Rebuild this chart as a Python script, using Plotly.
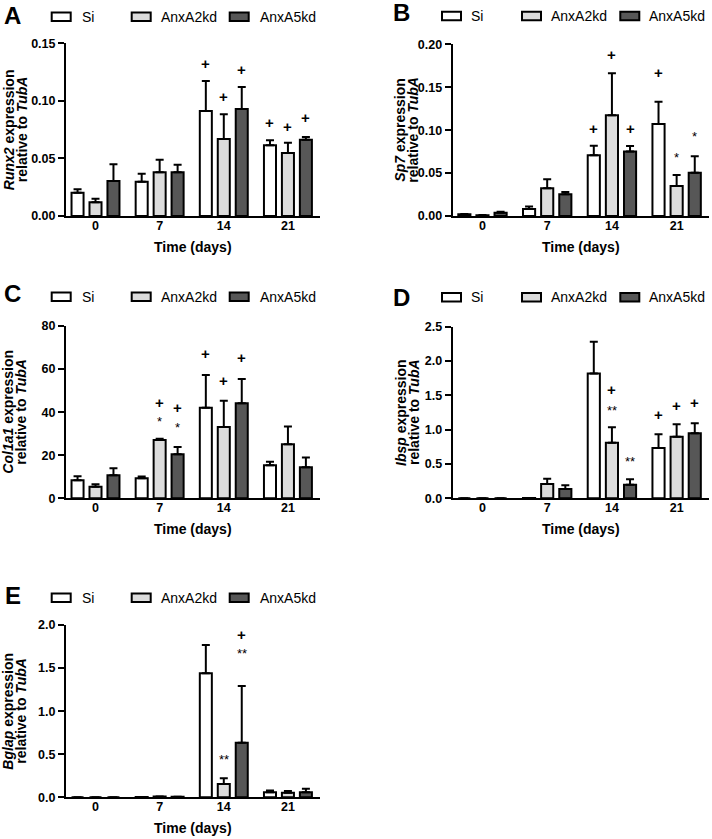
import plotly.graph_objects as go

# ---------------- data ----------------
days = ["0", "7", "14", "21"]
series_names = ["Si", "AnxA2kd", "AnxA5kd"]

runx2_si = [0.0203, 0.0298, 0.0912, 0.0614]
runx2_si_err = [0.003, 0.007, 0.026, 0.0043]
runx2_a2 = [0.0119, 0.0379, 0.0669, 0.0547]
runx2_a2_err = [0.003, 0.011, 0.0214, 0.009]
runx2_a5 = [0.0304, 0.0379, 0.093, 0.0663]
runx2_a5_err = [0.0145, 0.0067, 0.019, 0.0023]

sp7_si = [0.0019, 0.0082, 0.0707, 0.1072]
sp7_si_err = [0.0005, 0.003, 0.011, 0.026]
sp7_a2 = [0.001, 0.0322, 0.1173, 0.035]
sp7_a2_err = [0.0003, 0.0105, 0.049, 0.0128]
sp7_a5 = [0.0039, 0.0252, 0.075, 0.0505]
sp7_a5_err = [0.001, 0.0028, 0.0066, 0.019]

col1a1_si = [8.4, 9.3, 42.1, 15.3]
col1a1_si_err = [1.8, 0.8, 15.2, 1.7]
col1a1_a2 = [5.4, 27.1, 33.1, 25.1]
col1a1_a2_err = [1.1, 0.6, 12.2, 8.2]
col1a1_a5 = [10.7, 20.4, 44.1, 14.4]
col1a1_a5_err = [3.2, 3.4, 11.3, 4.6]

ibsp_si = [0.0, 0.005, 1.82, 0.733]
ibsp_si_err = [0.0, 0.0, 0.46, 0.2]
ibsp_a2 = [0.0, 0.209, 0.811, 0.898]
ibsp_a2_err = [0.0, 0.077, 0.223, 0.18]
ibsp_a5 = [0.0, 0.136, 0.199, 0.947]
ibsp_a5_err = [0.0, 0.054, 0.078, 0.145]

bglap_si = [0.0, 0.003, 1.439, 0.058]
bglap_si_err = [0.0, 0.0, 0.329, 0.02]
bglap_a2 = [0.0, 0.008, 0.155, 0.054]
bglap_a2_err = [0.0, 0.0, 0.066, 0.02]
bglap_a5 = [0.0, 0.006, 0.634, 0.058]
bglap_a5_err = [0.0, 0.0, 0.658, 0.04]

# significance marks: (day, series, symbol, level)
sig_runx2 = [("14", "Si", "+", 0.1326), ("14", "AnxA2kd", "+", 0.104), ("14", "AnxA5kd", "+", 0.127),
             ("21", "Si", "+", 0.081), ("21", "AnxA2kd", "+", 0.078), ("21", "AnxA5kd", "+", 0.0854)]
sig_sp7 = [("14", "Si", "+", 0.102), ("14", "AnxA2kd", "+", 0.1876), ("14", "AnxA5kd", "+", 0.102),
           ("21", "Si", "+", 0.167), ("21", "AnxA2kd", "*", 0.073), ("21", "AnxA5kd", "*", 0.097)]
sig_col1a1 = [("7", "AnxA2kd", "+", 44.6), ("7", "AnxA2kd", "*", 37.6),
              ("7", "AnxA5kd", "+", 42.1), ("7", "AnxA5kd", "*", 34.5),
              ("14", "Si", "+", 67.3), ("14", "AnxA2kd", "+", 54.9), ("14", "AnxA5kd", "+", 65.5)]
sig_ibsp = [("14", "Si", "+", 2.587), ("14", "AnxA2kd", "+", 1.578), ("14", "AnxA2kd", "**", 1.335),
            ("14", "AnxA5kd", "**", 0.592),
            ("21", "Si", "+", 1.223), ("21", "AnxA2kd", "+", 1.359), ("21", "AnxA5kd", "+", 1.393)]
sig_bglap = [("14", "Si", "+", 2.058), ("14", "AnxA5kd", "+", 1.895), ("14", "AnxA5kd", "**", 1.71),
             ("14", "AnxA2kd", "**", 0.491)]

# ---------------- layout constants ----------------
W, H = 712, 839
FONT = "Liberation Sans, Arial, sans-serif"
colors = {"Si": "#ffffff", "AnxA2kd": "#dcdcdc", "AnxA5kd": "#575757"}
BARGAP = 0.16

def fx(p):
    return p / W

def fy(p):
    return 1 - p / H

panels = [
    dict(letter="A", gene="Runx2", vals=[(runx2_si, runx2_si_err), (runx2_a2, runx2_a2_err), (runx2_a5, runx2_a5_err)],
         sig=sig_runx2, ymax=0.15, dtick=0.05, fmt=".2f",
         x0=66, x1=320, yt=43.3, yb=216, col=0, legy=16.7, lety=15.8),
    dict(letter="B", gene="Sp7", vals=[(sp7_si, sp7_si_err), (sp7_a2, sp7_a2_err), (sp7_a5, sp7_a5_err)],
         sig=sig_sp7, ymax=0.20, dtick=0.05, fmt=".2f",
         x0=452.7, x1=709, yt=44.3, yb=216, col=1, legy=16.0, lety=12.5),
    dict(letter="C", gene="Col1a1", vals=[(col1a1_si, col1a1_si_err), (col1a1_a2, col1a1_a2_err), (col1a1_a5, col1a1_a5_err)],
         sig=sig_col1a1, ymax=80, dtick=20, fmt="d",
         x0=66, x1=320, yt=326, yb=498.3, col=0, legy=296.7, lety=293.3),
    dict(letter="D", gene="Ibsp", vals=[(ibsp_si, ibsp_si_err), (ibsp_a2, ibsp_a2_err), (ibsp_a5, ibsp_a5_err)],
         sig=sig_ibsp, ymax=2.5, dtick=0.5, fmt=".1f",
         x0=452.7, x1=709, yt=326.7, yb=498.3, col=1, legy=297.3, lety=298),
    dict(letter="E", gene="Bglap", vals=[(bglap_si, bglap_si_err), (bglap_a2, bglap_a2_err), (bglap_a5, bglap_a5_err)],
         sig=sig_bglap, ymax=2.0, dtick=0.5, fmt=".1f",
         x0=66, x1=320, yt=625, yb=797.3, col=0, legy=597.7, lety=595),
]

fig = go.Figure()
annotations = []
shapes = []
layout_axes = {}

pitch = (1 - BARGAP) / 3

for i, p in enumerate(panels):
    n = i + 1
    xa = "x" if n == 1 else f"x{n}"
    ya = "y" if n == 1 else f"y{n}"
    for k, name in enumerate(series_names):
        v, e = p["vals"][k]
        e_plot = [x if x > 0 else None for x in e]
        fig.add_trace(go.Bar(
            x=days, y=v, name=name, xaxis=xa, yaxis=ya, showlegend=False,
            marker=dict(color=colors[name], line=dict(color="black", width=2)),
            error_y=dict(type="data", symmetric=False, array=e_plot, arrayminus=[0] * len(e),
                         color="black", thickness=2, width=4),
        ))
    xkey = "xaxis" if n == 1 else f"xaxis{n}"
    ykey = "yaxis" if n == 1 else f"yaxis{n}"
    layout_axes[xkey] = dict(
        domain=[fx(p["x0"]), fx(p["x1"])], anchor=ya, type="category",
        range=[-0.46, 3.5], showline=True, linewidth=2, linecolor="black",
        ticks="", showgrid=False, zeroline=False, automargin=False,
        ticklabelstandoff=-3,
        tickfont=dict(family=FONT, size=12.5, color="black", weight="bold"),
    )
    layout_axes[ykey] = dict(
        domain=[fy(p["yb"]), fy(p["yt"])], anchor=xa,
        range=[0, p["ymax"]], dtick=p["dtick"], tick0=0, tickformat=p["fmt"],
        showline=True, linewidth=2, linecolor="black",
        ticks="outside", ticklen=6, tickwidth=2, tickcolor="black",
        showgrid=False, zeroline=False, automargin=False,
        tickfont=dict(family=FONT, size=12.5, color="black", weight="bold"),
    )
    # significance marks
    for day, sname, sym, lvl in p["sig"]:
        k = series_names.index(sname)
        xpos = days.index(day) + (k - 1) * pitch
        star = "*" in sym
        annotations.append(dict(
            x=xpos, y=lvl, xref=xa, yref=ya, text=sym, showarrow=False,
            xanchor="center", yanchor="middle", yshift=-4 if star else 0,
            font=dict(family=FONT, size=13 if star else 15, color="black",
                      weight="normal" if star else "bold"),
        ))
    # axis titles
    xc = (p["x0"] + p["x1"]) / 2
    yc = (p["yt"] + p["yb"]) / 2
    annotations.append(dict(
        x=fx(xc), y=fy(p["yb"] + 31), xref="paper", yref="paper", text="Time (days)",
        showarrow=False, xanchor="center", yanchor="middle",
        font=dict(family=FONT, size=14, color="black", weight="bold"),
    ))
    if p["col"] == 0:
        t1, t2 = 8.5, 21.5
    else:
        t1, t2 = 400.5, 413.5
    annotations.append(dict(
        x=fx(t1), y=fy(yc), xref="paper", yref="paper", text=f"<i>{p['gene']}</i> expression",
        showarrow=False, xanchor="center", yanchor="middle", textangle=-90,
        font=dict(family=FONT, size=14, color="black", weight="bold"),
    ))
    annotations.append(dict(
        x=fx(t2), y=fy(yc), xref="paper", yref="paper", text="relative to <i>TubA</i>",
        showarrow=False, xanchor="center", yanchor="middle", textangle=-90,
        font=dict(family=FONT, size=14, color="black", weight="bold"),
    ))
    # panel letter
    letx = 12.5 if p["col"] == 0 else 401
    annotations.append(dict(
        x=fx(letx), y=fy(p["lety"]), xref="paper", yref="paper", text=p["letter"],
        showarrow=False, xanchor="center", yanchor="middle",
        font=dict(family=FONT, size=24, color="black", weight="bold"),
    ))
    # legend (boxes + labels)
    if p["col"] == 0:
        boxes = [-15.3, 64.7, 162.7]
        texts = [14.0, 93.3, 191.7]
    else:
        boxes = [-11.7, 68.3, 166.6]
        texts = [16.6, 96.6, 194.3]
    for k, name in enumerate(series_names):
        bx = p["x0"] + boxes[k]
        shapes.append(dict(
            type="rect", xref="paper", yref="paper",
            x0=fx(bx + 1), x1=fx(bx + 20), y0=fy(p["legy"] - 4.2), y1=fy(p["legy"] + 4.2),
            line=dict(color="black", width=2), fillcolor=colors[name],
        ))
        annotations.append(dict(
            x=fx(p["x0"] + texts[k]), y=fy(p["legy"]), xref="paper", yref="paper", text=name,
            showarrow=False, xanchor="left", yanchor="middle",
            font=dict(family=FONT, size=14, color="black"),
        ))

fig.update_layout(
    width=W, height=H, margin=dict(l=0, r=0, t=0, b=0),
    paper_bgcolor="white", plot_bgcolor="white",
    barmode="group", bargap=BARGAP, bargroupgap=0.33,
    annotations=annotations, shapes=shapes, showlegend=False,
    **layout_axes,
)

fig.write_html(
    "out.html",
    config={"displayModeBar": False},
    post_script="document.body.style.margin='0';document.body.style.padding='0';document.body.style.overflow='hidden';",
)
